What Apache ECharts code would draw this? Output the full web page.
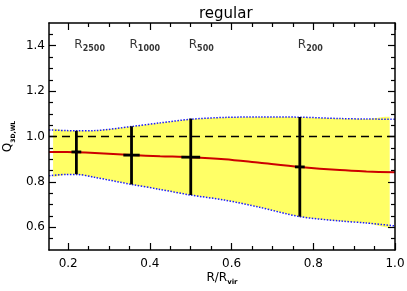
<!DOCTYPE html>
<html><head><meta charset="utf-8">
<script src="https://cdn.jsdelivr.net/npm/echarts@6/dist/echarts.min.js"></script>
<style>html,body{margin:0;padding:0;background:#fff}#c{width:407px;height:291px}</style>
</head><body><div id="c"></div>
<script>
// ---- data ----
const radius  = [0.153, 0.196, 0.22, 0.265, 0.355, 0.425, 0.5, 0.583, 0.669, 0.767, 0.865, 0.93, 1.0];
const median  = [0.932, 0.932, 0.931, 0.927, 0.918, 0.913, 0.909, 0.900, 0.884, 0.866, 0.852, 0.846, 0.842];
const upper   = [1.029, 1.026, 1.025, 1.026, 1.044, 1.060, 1.076, 1.084, 1.086, 1.085, 1.079, 1.077, 1.076];
const lower   = [0.827, 0.833, 0.833, 0.820, 0.789, 0.767, 0.742, 0.720, 0.688, 0.647, 0.628, 0.619, 0.606];
const fillRange = [0.163, 0.987];

const markerR    = [0.22, 0.355, 0.5, 0.767];
const markerQ    = [0.932, 0.918, 0.909, 0.866];
const markerLo   = [0.834, 0.789, 0.742, 0.647];
const markerHi   = [1.025, 1.045, 1.079, 1.086];
const markerXErr = [0.012, 0.02, 0.023, 0.012];
const markerNames = ['2500', '1000', '500', '200'];
const markerLabelQ = 1.4;
const refLevel = 1.0;

const xRange = [0.153, 1.0];
const yRange = [0.5, 1.5];
const xMajor = [0.2, 0.4, 0.6, 0.8, 1.0];
const xMinor = [0.25, 0.3, 0.35, 0.45, 0.5, 0.55, 0.65, 0.7, 0.75, 0.85, 0.9, 0.95];
const yMajor = [0.6, 0.8, 1.0, 1.2, 1.4];
const yMinor = [0.55, 0.65, 0.7, 0.75, 0.85, 0.9, 0.95, 1.05, 1.1, 1.15, 1.25, 1.3, 1.35, 1.45];

// ---- chart ----
const FONT = 'DejaVu Sans';
const zip = (a, b) => a.map((v, i) => [v, b[i]]);
const chart = echarts.init(document.getElementById('c'), null, {renderer: 'canvas'});
const gridRect = {left: 49, right: 12, top: 23, bottom: 41, containLabel: false, outerBoundsMode: 'none'};
const axLine = {show: true, lineStyle: {color: '#000', width: 1.5}};
function xAx(grid, pos, ticks, len, labels, extra) {
  return Object.assign({
    type: 'value', gridIndex: grid, position: pos, min: xRange[0], max: xRange[1],
    axisLine: grid === 0 ? axLine : {show: false},
    axisTick: {show: true, inside: true, length: len, customValues: ticks, lineStyle: {color: '#000', width: 1.2}},
    axisLabel: labels ? {show: true, customValues: ticks, formatter: v => v.toFixed(1), margin: 8,
      color: '#000', fontFamily: FONT, fontSize: 12} : {show: false},
    splitLine: {show: false}, z: 10, nameMoveOverlap: false
  }, extra || {});
}
function yAx(grid, pos, ticks, len, labels, extra) {
  return Object.assign({
    type: 'value', gridIndex: grid, position: pos, min: yRange[0], max: yRange[1],
    axisLine: grid === 0 ? axLine : {show: false},
    axisTick: {show: true, inside: true, length: len, customValues: ticks, lineStyle: {color: '#000', width: 1.2}},
    axisLabel: labels ? {show: true, customValues: ticks, formatter: v => v.toFixed(1), margin: 4,
      color: '#000', fontFamily: FONT, fontSize: 12} : {show: false},
    splitLine: {show: false}, z: 10, nameMoveOverlap: false
  }, extra || {});
}

const option = {
  animation: false,
  backgroundColor: '#fff',
  title: {text: 'regular', left: 194, top: 2,
    textStyle: {fontFamily: FONT, fontSize: 15, fontWeight: 'normal', color: '#000'}},
  grid: [Object.assign({}, gridRect), Object.assign({}, gridRect)],
  xAxis: [
    xAx(0, 'bottom', xMajor, 7, true, {
      name: '{a|R/R}{b|vir}', nameLocation: 'middle', nameGap: 24,
      nameTextStyle: {fontFamily: FONT, color: '#000', rich: {
        a: {fontFamily: FONT, fontSize: 12, lineHeight: 12, padding: [0, 0, 2, 0], verticalAlign: 'bottom'},
        b: {fontFamily: FONT, fontSize: 7, fontWeight: 'bold', lineHeight: 8, verticalAlign: 'bottom'}}}
    }),
    xAx(0, 'top', xMajor, 7, false),
    xAx(1, 'bottom', xMinor, 4, false),
    xAx(1, 'top', xMinor, 4, false)
  ],
  yAxis: [
    yAx(0, 'left', yMajor, 7, true, {
      name: '{a|Q}{b|3D,WL}', nameLocation: 'middle', nameGap: 33,
      nameTextStyle: {fontFamily: FONT, color: '#000', rich: {
        a: {fontFamily: FONT, fontSize: 12, lineHeight: 12, padding: [0, 0, 2, 0], verticalAlign: 'bottom'},
        b: {fontFamily: FONT, fontSize: 6, fontWeight: 'bold', lineHeight: 7, verticalAlign: 'bottom'}}}
    }),
    yAx(0, 'right', yMajor, 7, false),
    yAx(1, 'left', yMinor, 4, false),
    yAx(1, 'right', yMinor, 4, false)
  ],
  series: [
    { // yellow scatter band
      type: 'custom', xAxisIndex: 0, yAxisIndex: 0, silent: true, z: 1,
      data: [[0]],
      renderItem: function (params, api) {
        const pts = [];
        for (let i = 0; i < radius.length; i++) pts.push(api.coord([radius[i], upper[i]]));
        for (let i = radius.length - 1; i >= 0; i--) pts.push(api.coord([radius[i], lower[i]]));
        const a = api.coord([fillRange[0], yRange[1]]);
        const b = api.coord([fillRange[1], yRange[0]]);
        return {type: 'group', children: [{
          type: 'polygon', shape: {points: pts, smooth: 0.25},
          style: {fill: '#FFFF66', stroke: null}
        }], clipPath: {type: 'rect', shape: {x: a[0], y: a[1], width: b[0] - a[0], height: b[1] - a[1]}}};
      }
    },
    { // reference level
      type: 'line', xAxisIndex: 0, yAxisIndex: 0, z: 3, symbol: 'none', silent: true,
      data: [[xRange[0], refLevel], [xRange[1], refLevel]],
      lineStyle: {color: '#000', width: 1.5, type: [8, 5]}
    },
    {
      type: 'line', xAxisIndex: 0, yAxisIndex: 0, z: 4, symbol: 'none', smooth: 0.3,
      data: zip(radius, upper), lineStyle: {color: '#1a1aff', width: 1.5, type: [1.5, 1.5]}
    },
    {
      type: 'line', xAxisIndex: 0, yAxisIndex: 0, z: 4, symbol: 'none', smooth: 0.3,
      data: zip(radius, lower), lineStyle: {color: '#1a1aff', width: 1.5, type: [1.5, 1.5]}
    },
    {
      type: 'line', xAxisIndex: 0, yAxisIndex: 0, z: 5, symbol: 'none', smooth: 0.3,
      data: zip(radius, median), lineStyle: {color: '#cc0000', width: 2}
    },
    { // error crosses
      type: 'custom', xAxisIndex: 0, yAxisIndex: 0, z: 6, silent: true,
      data: markerR.map((r, i) => [r, markerQ[i], markerLo[i], markerHi[i], markerXErr[i]]),
      renderItem: function (params, api) {
        const x = api.value(0), y = api.value(1), lo = api.value(2), hi = api.value(3), xe = api.value(4);
        const t = api.coord([x, hi]), b = api.coord([x, lo]);
        const l = api.coord([x - xe, y]), r = api.coord([x + xe, y]);
        return {type: 'group', children: [
          {type: 'line', shape: {x1: t[0], y1: t[1], x2: b[0], y2: b[1]}, style: {stroke: '#000', lineWidth: 2.8}},
          {type: 'line', shape: {x1: l[0], y1: l[1], x2: r[0], y2: r[1]}, style: {stroke: '#000', lineWidth: 2.8}}
        ]};
      }
    },
    { // overdensity labels
      type: 'scatter', xAxisIndex: 0, yAxisIndex: 0, z: 7, symbolSize: 0, silent: true,
      data: markerR.map((r, i) => [r, markerLabelQ, markerNames[i]]),
      label: {show: true, position: 'inside', align: 'left', verticalAlign: 'middle', offset: [-2, 1],
        formatter: p => '{a|R}{b|' + p.data[2] + '}',
        rich: {
          a: {fontFamily: FONT, fontSize: 12, lineHeight: 12, padding: [0, 0, 2, 0], verticalAlign: 'bottom', color: '#000'},
          b: {fontFamily: FONT, fontSize: 8, fontWeight: 'bold', lineHeight: 9, verticalAlign: 'bottom', color: '#000'}
        }}
    }
  ]
};
chart.setOption(option);
</script>
</body></html>
